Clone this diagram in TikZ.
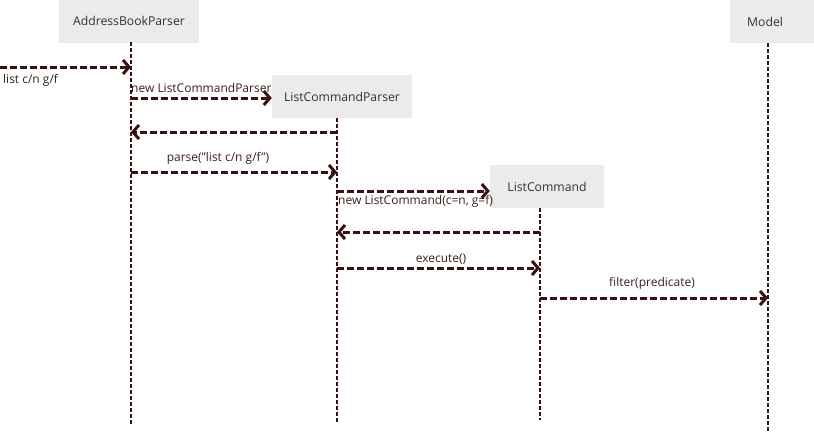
\documentclass[tikz,border=0pt]{standalone}
\usepackage{fontspec}
\setmainfont{Open Sans}
\usetikzlibrary{arrows.meta}
\definecolor{lineclr}{RGB}{58,16,16}
\definecolor{boxclr}{RGB}{235,235,235}
\definecolor{txtclr}{RGB}{51,51,51}
\definecolor{lblclr}{RGB}{64,28,28}

\begin{document}
\begin{tikzpicture}[x=1pt,y=-1pt,
  obj/.style={fill=boxclr, minimum height=43pt, inner sep=0pt, text=txtclr, font=\fontsize{12.2}{14}\selectfont},
  life/.style={lineclr, line width=2pt, dash pattern=on 4pt off 2pt},
  msg/.style={lineclr, line width=3pt, dash pattern=on 7pt off 3pt, -{Straight Barb[length=6pt,width=14pt,line width=3pt]}},
  lbl/.style={text=lblclr, font=\fontsize{12}{14}\selectfont, inner sep=1pt}]
  \useasboundingbox (0,0) rectangle (814,432);
  % Objetos
  \node[obj, minimum width=140pt] (abp) at (129,21) {AddressBookParser};
  \node[obj, minimum width=140pt] (lcp) at (342,96.5) {ListCommandParser};
  \node[obj, minimum width=114pt] (lc) at (547,186.5) {ListCommand};
  \node[obj, anchor=west, text width=84pt, align=left] (model) at (730,21.5) {\hspace*{17pt}Model};
  % Linhas de vida
  \coordinate (abpT) at (131,42);   \coordinate (abpB) at (131,424);
  \coordinate (lcpT) at (337,118);  \coordinate (lcpB) at (337,422);
  \coordinate (lcT) at (540,208);   \coordinate (lcB) at (540,420);
  \coordinate (modelT) at (768,43); \coordinate (modelB) at (768,432);
  \foreach \o in {abp, lcp, lc, model}
    \draw[life] (\o T) -- (\o B);
  % Mensagens
  \coordinate (start) at (0,67);
  \draw[msg] (start) -- (abpT |- start);
  \foreach \from/\to/\y in {abpT/lcp.west/98, lcpT/abpT/132, abpT/lcpT/172,
                            lcpT/lc.west/191, lcT/lcpT/232, lcpT/lcT/268, lcT/modelT/298}
    \draw[msg] (\from |- 0,\y) -- (\to |- 0,\y);
  % Rotulos
  \node[lbl, anchor=west] (m1) at (2,80) {list c/n g/f};
  \node[lbl, anchor=west] (m2) at (130,88) {new ListCommandParser};
  \node[lbl] (m4) at (218,158) {parse("list c/n g/f")};
  \node[lbl, anchor=west] (m5) at (337,201) {new ListCommand(c=n, g=f)};
  \node[lbl] (m7) at (441,259) {execute()};
  \node[lbl] (m8) at (652,283) {filter(predicate)};
\end{tikzpicture}
\end{document}
